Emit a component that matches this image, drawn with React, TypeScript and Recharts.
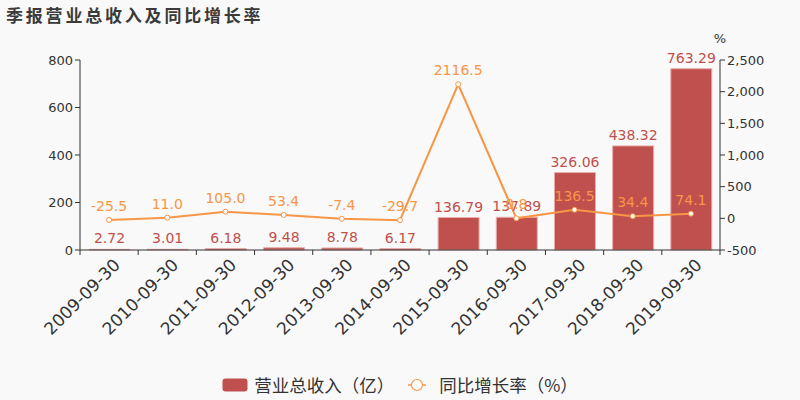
import React from 'react';
import { ComposedChart, Bar, Line, XAxis, YAxis, LabelList, Legend } from 'recharts';

const categories = ['2009-09-30','2010-09-30','2011-09-30','2012-09-30','2013-09-30','2014-09-30','2015-09-30','2016-09-30','2017-09-30','2018-09-30','2019-09-30'];
const revenue = [2.72, 3.01, 6.18, 9.48, 8.78, 6.17, 136.79, 137.89, 326.06, 438.32, 763.29];
const growth = [-25.5, 11.0, 105.0, 53.4, -7.4, -29.7, 2116.5, 0.8, 136.5, 34.4, 74.1];
const leftTicks = [0, 200, 400, 600, 800];
const rightTicks = [-500, 0, 500, 1000, 1500, 2000, 2500];

const data = categories.map((c, i) => ({ date: c, revenue: revenue[i], growth: growth[i] }));

const BAR = '#c0504d';
const ORANGE = '#f79646';
const FONT = '"DejaVu Sans", sans-serif';

const XTick = (props: any) => {
  const { x, y, payload, index } = props;
  const band = 640 / categories.length;
  const ax = x + 3;
  const ay = y - 1;
  return (
    <g>
      <line x1={x - band / 2} x2={x - band / 2} y1={y - 8} y2={y - 3} stroke="#333" />
      {index === categories.length - 1 && (
        <line x1={x + band / 2} x2={x + band / 2} y1={y - 8} y2={y - 3} stroke="#333" />
      )}
      <text x={ax} y={ay} textAnchor="end" fontSize={17} fill="#333" fontFamily={FONT}
        transform={`rotate(-45, ${ax}, ${ay})`} dominantBaseline="hanging">
        {payload.value}
      </text>
    </g>
  );
};

const LegendContent = () => (
  <div style={{ display: 'flex', justifyContent: 'center', alignItems: 'center', fontFamily: '"Noto Sans CJK SC", sans-serif', fontSize: 17.5, color: '#333' }}>
    <svg width={26} height={14} style={{ marginRight: 6 }}>
      <rect x={0.5} y={0.5} width={25} height={13} rx={3} fill={BAR} />
    </svg>
    <span style={{ marginRight: 14 }}>营业总收入（亿）</span>
    <svg width={18} height={14} style={{ marginRight: 13 }}>
      <line x1={0} x2={18} y1={7} y2={7} stroke={ORANGE} strokeWidth={1.5} />
      <circle cx={9} cy={7} r={5.5} fill="#fff" stroke={ORANGE} strokeWidth={1.2} />
    </svg>
    <span>同比增长率（%）</span>
  </div>
);

export default function App() {
  return (
    <div style={{ position: 'absolute', left: 0, top: 0, width: 800, height: 400, background: '#f9f9f9' }}>
      <div style={{ position: 'absolute', left: 6, top: 2, fontFamily: '"Noto Sans CJK SC", sans-serif', fontWeight: 'bold', fontSize: 17, letterSpacing: 2.8, color: '#3a3a3a', zIndex: 2 }}>
        季报营业总收入及同比增长率
      </div>
      <ComposedChart width={800} height={400} data={data} margin={{ top: 60, right: 0, left: 0, bottom: 0 }} barCategoryGap="15%">
        <XAxis dataKey="date" height={150} tick={<XTick />} tickLine={false} axisLine={{ stroke: '#333' }} interval={0} />
        <YAxis yAxisId="left" width={80} domain={[0, 800]} ticks={leftTicks} tick={{ fontSize: 13, fill: '#333', fontFamily: FONT }}
          axisLine={{ stroke: '#333' }} tickLine={{ stroke: '#333' }} tickSize={5} />
        <YAxis yAxisId="right" orientation="right" width={80} domain={[-500, 2500]} ticks={rightTicks}
          tickFormatter={(v: number) => v.toLocaleString('en-US')}
          tick={{ fontSize: 13, fill: '#333', fontFamily: FONT }} axisLine={{ stroke: '#333' }} tickLine={{ stroke: '#333' }} tickSize={5}
          label={{ content: (p: any) => <text x={p.viewBox.x} y={p.viewBox.y - 17} textAnchor="middle" fontSize={13} fill="#333" fontFamily={FONT}>%</text> }} />
        <Legend verticalAlign="middle" layout="horizontal" align="center" content={<LegendContent />}
          wrapperStyle={{ position: 'absolute', top: 372, left: 0, width: 800 }} />
        <Bar yAxisId="left" dataKey="revenue" name="营业总收入（亿）" fill={BAR} stroke="#e6aeac" strokeWidth={1} barSize={41} isAnimationActive={false}>
          <LabelList dataKey="revenue" position="top" offset={6} fill={BAR} fontSize={14} fontFamily={FONT} />
        </Bar>
        <Line yAxisId="right" dataKey="growth" name="同比增长率（%）" stroke={ORANGE} strokeWidth={2}
          dot={{ r: 2.5, fill: '#fff', stroke: ORANGE, strokeWidth: 1 }} isAnimationActive={false}>
          <LabelList dataKey="growth" position="top" offset={9} fill={ORANGE} fontSize={14} fontFamily={FONT}
            formatter={(v: number) => v.toFixed(1)} />
        </Line>
      </ComposedChart>
    </div>
  );
}
